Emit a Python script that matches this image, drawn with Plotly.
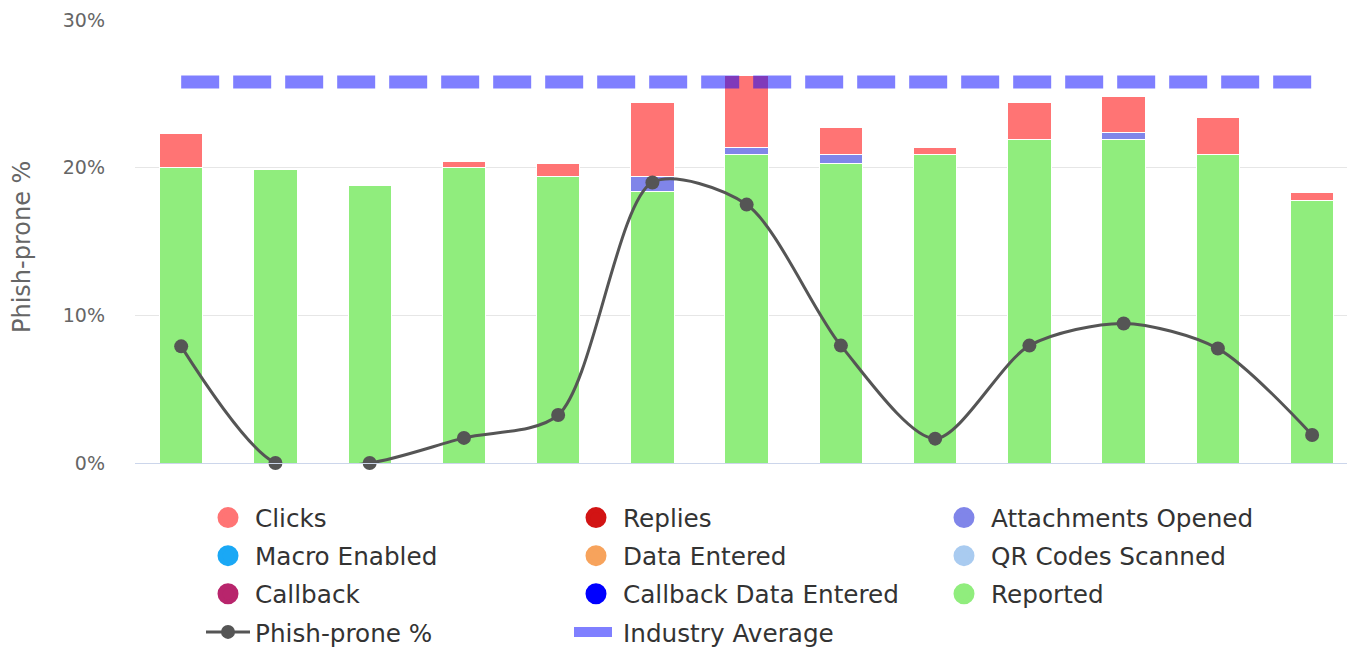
import plotly.graph_objects as go

# Campaign slots along the x axis (labels are not displayed)
campaigns = list(range(1, 14))

# Stacked outcome shares per campaign, in percent
reported = [20.0, 19.9, 18.8, 20.0, 19.4, 18.4, 20.9, 20.3, 20.9, 21.9, 21.9, 20.9, 17.8]
callback_data_entered = [0] * 13
callback = [0] * 13
qr_codes_scanned = [0] * 13
data_entered = [0] * 13
macro_enabled = [0] * 13
attachments_opened = [0, 0, 0, 0, 0, 1.0, 0.45, 0.6, 0, 0, 0.5, 0, 0]
replies = [0] * 13
clicks = [2.3, 0, 0, 0.4, 0.9, 5.0, 4.9, 1.85, 0.45, 2.5, 2.45, 2.5, 0.55]

# Phish-prone percentage per campaign and the industry benchmark
phish_prone = [7.9, 0, 0, 1.7, 3.25, 19.0, 17.5, 7.95, 1.65, 7.95, 9.45, 7.75, 1.9]
industry_average = [25.8] * 13

y_ticks = [0, 10, 20, 30]
y_tick_labels = ["0%", "10%", "20%", "30%"]

colors = {
    "Clicks": "#FF7474",
    "Replies": "#D21414",
    "Attachments Opened": "#8085E9",
    "Macro Enabled": "#1AA8F5",
    "Data Entered": "#F7A35C",
    "QR Codes Scanned": "#A9CBF0",
    "Callback": "#B8256C",
    "Callback Data Entered": "#0000FF",
    "Reported": "#90ED7D",
}

# bottom-to-top stacking order
stack = [
    ("Reported", reported),
    ("Callback Data Entered", callback_data_entered),
    ("Callback", callback),
    ("QR Codes Scanned", qr_codes_scanned),
    ("Data Entered", data_entered),
    ("Macro Enabled", macro_enabled),
    ("Attachments Opened", attachments_opened),
    ("Replies", replies),
    ("Clicks", clicks),
]

fig = go.Figure()

for name, values in stack:
    has_data = any(v > 0 for v in values)
    fig.add_trace(go.Bar(
        x=campaigns, y=values, name=name, width=0.46,
        marker=dict(color=colors[name],
                    line=dict(color="white", width=1 if has_data else 0)),
        showlegend=False, hoverinfo="skip",
    ))

fig.add_trace(go.Scatter(
    x=campaigns, y=phish_prone, name="Phish-prone %",
    mode="lines+markers",
    line=dict(color="#555555", width=3, shape="spline", smoothing=0.8),
    marker=dict(color="#555555", size=14),
    cliponaxis=False, legend="legend", legendgroup="pp", legendrank=10,
))

fig.add_trace(go.Scatter(
    x=campaigns, y=industry_average, name="Industry Average",
    mode="lines",
    line=dict(color="rgba(0,0,255,0.5)", width=13, dash="38px,14px"),
    legend="legend2", legendgroup="ia", legendrank=10,
))

# legend entries drawn as circles, laid out in three columns
columns = {
    "legend": ["Clicks", "Macro Enabled", "Callback"],
    "legend2": ["Replies", "Data Entered", "Callback Data Entered"],
    "legend3": ["Attachments Opened", "QR Codes Scanned", "Reported"],
}
for lg, names in columns.items():
    for i, name in enumerate(names):
        fig.add_trace(go.Scatter(
            x=[None], y=[None], mode="markers", name=name,
            marker=dict(size=16, color=colors[name],
                        line=dict(width=5, color=colors[name])),
            legend=lg, legendgroup=name, legendrank=i + 1,
        ))

W, H = 1347, 651
PLOT_L, PLOT_R, PLOT_T, PLOT_B = 135, 1347, 20, 463

legend_font = dict(family="DejaVu Sans", size=24.7, color="#333333")
legend_common = dict(
    xref="container", yref="container", xanchor="left", yanchor="top",
    orientation="v", font=legend_font, itemwidth=44, tracegroupgap=3,
    traceorder="grouped", bgcolor="rgba(0,0,0,0)", borderwidth=0,
    itemclick=False, itemdoubleclick=False,
)
col_left = [201, 569, 937]
legend_top = 495

fig.update_layout(
    width=W, height=H,
    margin=dict(l=PLOT_L, r=W - PLOT_R, t=PLOT_T, b=H - PLOT_B, autoexpand=False),
    paper_bgcolor="white", plot_bgcolor="white",
    barmode="stack", bargap=0.54,
    font=dict(family="DejaVu Sans"),
    showlegend=True,
    legend=dict(x=col_left[0] / W, y=1 - legend_top / H, **legend_common),
    legend2=dict(x=col_left[1] / W, y=1 - legend_top / H, **legend_common),
    legend3=dict(x=col_left[2] / W, y=1 - legend_top / H, **legend_common),
    xaxis=dict(
        range=[0.51, 13.37], showticklabels=False, showgrid=False,
        zeroline=False, showline=True, linecolor="#CCD6EB", linewidth=1,
        ticks="", fixedrange=True, automargin=False,
    ),
    yaxis=dict(
        range=[0, 30], tickmode="array", tickvals=y_ticks, ticktext=y_tick_labels,
        showgrid=True, gridcolor="#E6E6E6", gridwidth=1,
        zeroline=False, showline=False, ticks="",
        tickfont=dict(family="DejaVu Sans", size=19, color="#666666"),
        ticklabelstandoff=29, automargin=False, fixedrange=True,
    ),
    annotations=[dict(
        text="Phish-prone %", textangle=-90, showarrow=False,
        xref="paper", yref="paper",
        x=(22 - PLOT_L) / (PLOT_R - PLOT_L), y=(PLOT_B - 247) / (PLOT_B - PLOT_T),
        xanchor="center", yanchor="middle",
        font=dict(family="DejaVu Sans", size=24, color="#666666"),
    )],
)

fig.write_html("out.html", config={"displayModeBar": False})
